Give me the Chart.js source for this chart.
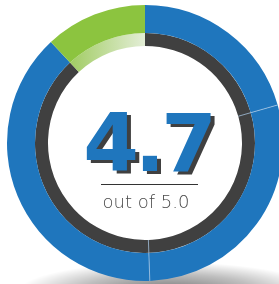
<!DOCTYPE html>
<html>
<head>
<meta charset="utf-8">
<script src="https://cdn.jsdelivr.net/npm/chart.js@4"></script>
<style>
  html, body { margin: 0; padding: 0; background: #fff; overflow: hidden; width: 279px; height: 284px; }
  #wrap { position: relative; width: 279px; height: 284px; overflow: hidden; }
  canvas { position: absolute; left: 0; top: 0; }
  .score { position: absolute; left: 48px; width: 200px; top: 104px; text-align: center;
           font-family: "DejaVu Sans", sans-serif; font-weight: bold; font-size: 80px; line-height: 80px;
           letter-spacing: -4px; color: #1f76bd; text-shadow: 4px 3px 0 #404040; white-space: nowrap; }
  .rule { position: absolute; left: 101px; width: 97px; top: 184px; height: 1px; background: #333; }
  .scale { position: absolute; left: 46px; width: 200px; top: 193px; text-align: center;
           font-family: "DejaVu Sans", sans-serif; font-weight: 200; font-size: 18px; line-height: 18px;
           color: #4a4a4a; white-space: nowrap; }
</style>
</head>
<body>
<div id="wrap">
  <canvas id="c" width="290" height="284"></canvas>
  <div class="score" id="score"></div>
  <div class="rule"></div>
  <div class="scale" id="scale"></div>
</div>
<script>
// Ring segments (degrees of the outer ring), clockwise from 12 o'clock
const ringLabels = ['Blue 1', 'Blue 2', 'Blue 3', 'Green'];
const ringValues = [74, 104, 139, 43];
// Inner track: dark track and the highlighted part under the green segment
const trackLabels = ['Track', 'Highlight'];
const trackValues = [317, 43];
// Texts
const scoreText = '4.7';
const scaleText = 'out of 5.0';

document.getElementById('score').textContent = scoreText;
document.getElementById('scale').textContent = scaleText;

const BLUE = '#1f76bd', GREEN = '#8cc43f', DARK = '#404040';

const shadowPlugin = {
  id: 'shadow',
  beforeDatasetsDraw(chart) {
    const ctx = chart.ctx;
    ctx.save();
    ctx.translate(168, 292);
    ctx.scale(1, 0.2);
    const g = ctx.createRadialGradient(0, 0, 0, 0, 0, 150);
    g.addColorStop(0, 'rgba(0,0,0,0.55)');
    g.addColorStop(0.6, 'rgba(0,0,0,0.25)');
    g.addColorStop(1, 'rgba(0,0,0,0)');
    ctx.fillStyle = g;
    ctx.fillRect(-160, -160, 320, 320);
    ctx.restore();
  }
};

const seamPlugin = {
  id: 'seams',
  afterDatasetsDraw(chart) {
    const m0 = chart.getDatasetMeta(0), m1 = chart.getDatasetMeta(1);
    const ctx = chart.ctx;
    ctx.save();
    ctx.strokeStyle = 'rgba(170,200,230,0.75)';
    ctx.lineWidth = 1;
    [1, 2].forEach(i => {
      const arc = m0.data[i];
      const a = arc.startAngle;
      const r0 = m1.data[0].innerRadius, r1 = arc.outerRadius;
      ctx.beginPath();
      ctx.moveTo(arc.x + Math.cos(a) * r0, arc.y + Math.sin(a) * r0);
      ctx.lineTo(arc.x + Math.cos(a) * r1, arc.y + Math.sin(a) * r1);
      ctx.stroke();
    });
    ctx.restore();
  }
};

new Chart(document.getElementById('c'), {
  type: 'doughnut',
  data: {
    labels: ringLabels,
    datasets: [
      { data: ringValues, backgroundColor: [BLUE, BLUE, BLUE, GREEN], weight: 28,
        borderWidth: 0, hoverOffset: 0, offset: 0 },
      { data: trackValues, weight: 13, borderWidth: 0, hoverOffset: 0, offset: 0,
        backgroundColor: (c) => {
          if (c.dataIndex === 0) return DARK;
          const g = c.chart.ctx.createLinearGradient(72, 0, 146, 0);
          g.addColorStop(0, '#a3cd67');
          g.addColorStop(1, '#e4eed8');
          return g;
        } }
    ]
  },
  options: {
    responsive: false,
    devicePixelRatio: 1,
    animation: false,
    events: [],
    cutout: '70.3%',
    layout: { padding: { left: 7, top: 5, right: 7, bottom: 3 } },
    plugins: { legend: { display: false }, tooltip: { enabled: false } }
  },
  plugins: [shadowPlugin, seamPlugin]
});
</script>
</body>
</html>
